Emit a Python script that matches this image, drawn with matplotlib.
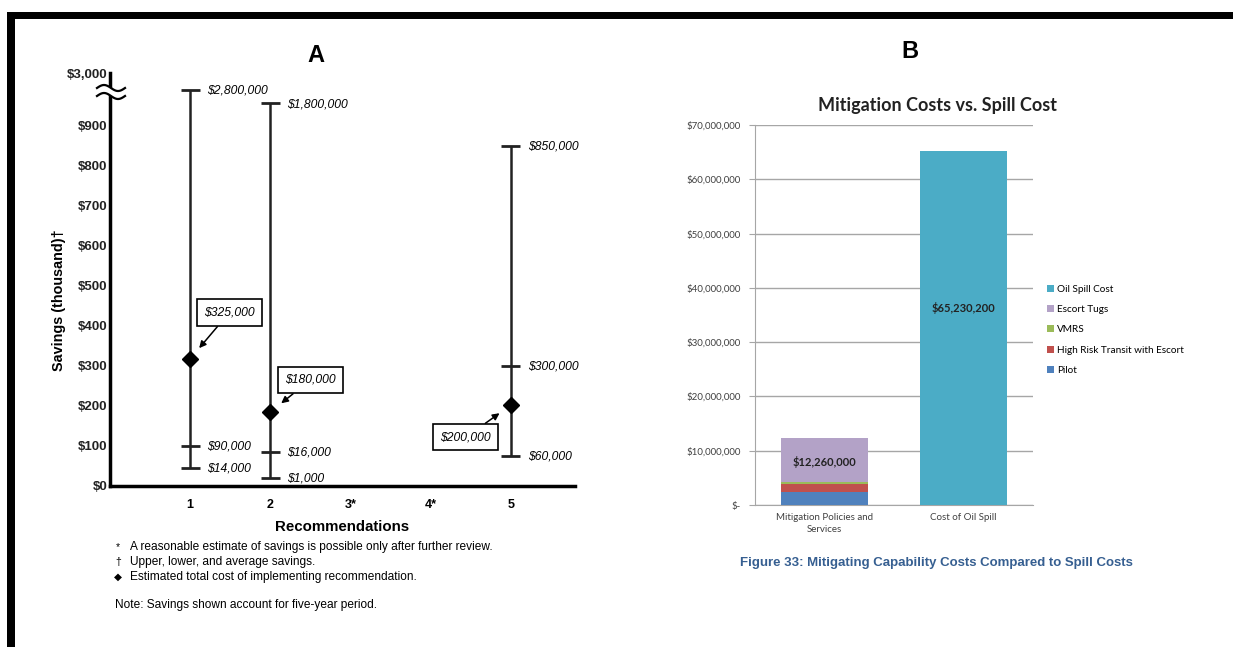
import numpy as np
import matplotlib.pyplot as plt
from matplotlib.patches import Rectangle, Polygon
from matplotlib.lines import Line2D

plt.rcParams['font.family'] = ['Liberation Sans', 'DejaVu Sans']

W, H = 1233, 647

# --- panel A: savings per recommendation (thousand $) ---
recs = ['1', '2', '3*', '4*', '5']
upper_k = [2800, 1800, np.nan, np.nan, 850]
avg_k = [100, 85, np.nan, np.nan, 300]
low_k = [45, 20, np.nan, np.nan, 75]
cost_k = [318, 185, np.nan, np.nan, 202]
upper_lbl = ['$2,800,000', '$1,800,000', '', '', '$850,000']
avg_lbl = ['$90,000', '$16,000', '', '', '$300,000']
low_lbl = ['$14,000', '$1,000', '', '', '$60,000']
cost_lbl = ['$325,000', '$180,000', '', '', '$200,000']
ytick_k = [0, 100, 200, 300, 400, 500, 600, 700, 800, 900, 3000]

# --- panel B: mitigation vs spill cost ---
cats = ['Mitigation Policies and\nServices', 'Cost of Oil Spill']
pilot = [2.4e6, 0]
hrt = [1.4e6, 0]
vmrs = [0.5e6, 0]
tugs = [7.96e6, 0]
spill = [0, 65.23e6]
total_lbl = ['$12,260,000', '$65,230,200']


def fx(p):
    return p / W


def fy(p):
    return 1 - p / H


fig = plt.figure(figsize=(W / 100, H / 100), dpi=100)

# page frame (black edges of the scan)
fig.add_artist(Rectangle((fx(7), fy(19)), 1, 7 / H, transform=fig.transFigure,
                         color='black', lw=0))
fig.add_artist(Rectangle((fx(7), 0), 8 / W, fy(12), transform=fig.transFigure,
                         color='black', lw=0))

# ---------------- panel A ----------------
# broken axis: values above $900k squeezed into the top of the axis
kv = [0, 900, 1800, 2800, 3000, 4000]
kp = [0, 900, 957, 990, 1032, 1100]
fwd = lambda v: np.interp(v, kv, kp)
inv = lambda p: np.interp(p, kp, kv)

axA = fig.add_axes([fx(110), fy(486), (575 - 110) / W, (486 - 73) / H])
axA.set_yscale('function', functions=(fwd, inv))
axA.set_xlim(0, 5.8)
axA.set_ylim(0, 3000)
axA.spines[['top', 'right']].set_visible(False)
axA.spines[['left', 'bottom']].set_linewidth(2.5)
axA.set_yticks(ytick_k)
axA.set_yticklabels([f'${v:,}' for v in ytick_k])
axA.yaxis.set_minor_locator(plt.NullLocator())
axA.tick_params(axis='y', length=0, pad=2, labelsize=9.5, labelcolor='#222222')
for t in axA.get_yticklabels():
    t.set_fontweight('bold')
xs = np.arange(1, len(recs) + 1)
axA.set_xticks(xs)
axA.set_xticklabels(recs, fontweight='bold', fontsize=9)
axA.tick_params(axis='x', length=0, pad=9)
axA.set_xlabel('Recommendations', fontweight='bold', fontsize=10.8, labelpad=7)
axA.set_ylabel('Savings (thousand)\u2020', fontweight='bold', fontsize=10.4)
axA.yaxis.set_label_coords(-0.095, 0.45)

cw = 0.12
for i, x in enumerate(xs):
    if np.isnan(upper_k[i]):
        continue
    axA.vlines(x, low_k[i], upper_k[i], color='#222222', lw=1.8)
    axA.hlines([low_k[i], avg_k[i], upper_k[i]], x - cw, x + cw, color='#222222', lw=2)
    for v, s in [(upper_k[i], upper_lbl[i]), (avg_k[i], avg_lbl[i]), (low_k[i], low_lbl[i])]:
        axA.annotate(s, xy=(x, v), xytext=(17, -1), textcoords='offset pixels',
                     va='center', ha='left', fontstyle='italic', fontsize=8.7)
    axA.plot(x, cost_k[i], marker='D', ms=8, color='black', zorder=5)

box_off = [(39, 46), (40, 32), None, None, (-45, -32)]
for i, x in enumerate(xs):
    if box_off[i] is None:
        continue
    axA.annotate(cost_lbl[i], xy=(x, cost_k[i]), xytext=box_off[i],
                 textcoords='offset pixels', ha='center', va='center',
                 fontstyle='italic', fontsize=8.7,
                 bbox=dict(boxstyle='square,pad=0.6', fc='white', ec='black', lw=1.2),
                 arrowprops=dict(arrowstyle='-|>', color='black', lw=1.1,
                                 mutation_scale=10, shrinkA=0, shrinkB=10))

# axis break symbol
bx = np.linspace(97, 125, 40)
w1 = 88 - 3 * np.sin(2 * np.pi * (bx - 97) / 28)
w2 = 96 - 3 * np.sin(2 * np.pi * (bx - 97) / 28)
poly = np.column_stack([np.r_[bx, bx[::-1]], np.r_[w1, w2[::-1]]])
fig.add_artist(Polygon([(fx(a), fy(b)) for a, b in poly], closed=True,
                       transform=fig.transFigure, fc='white', ec='none', zorder=10))
for w in (w1, w2):
    fig.add_artist(Line2D(fx(bx), fy(w), transform=fig.transFigure,
                          color='black', lw=1.6, zorder=11))

fig.text(fx(316), fy(55), 'A', fontsize=17, fontweight='bold', ha='center', va='center')

notes = [('*', 'A reasonable estimate of savings is possible only after further review.', 547),
         ('\u2020', 'Upper, lower, and average savings.', 562),
         ('\u25c6', 'Estimated total cost of implementing recommendation.', 577)]
for sym, txt, yy in notes:
    fig.text(fx(118), fy(yy), sym, fontsize=7.5, ha='center', va='center',
             family=['DejaVu Sans'] if sym == '\u25c6' else None)
    fig.text(fx(130), fy(yy), txt, fontsize=8.6, va='center')
fig.text(fx(115), fy(605), 'Note: Savings shown account for five-year period.',
         fontsize=8.6, va='center')

# ---------------- panel B ----------------
colors = {'Pilot': '#4F81BD', 'High Risk Transit with Escort': '#C0504D',
          'VMRS': '#9BBB59', 'Escort Tugs': '#B3A2C7', 'Oil Spill Cost': '#4BACC6'}
axB = fig.add_axes([fx(755), fy(505), (1033 - 755) / W, (505 - 125) / H])
xb = np.arange(len(cats))
bw = 0.63
bottom = np.zeros(len(cats))
for name, vals in [('Pilot', pilot), ('High Risk Transit with Escort', hrt),
                   ('VMRS', vmrs), ('Escort Tugs', tugs), ('Oil Spill Cost', spill)]:
    axB.bar(xb, vals, bw, bottom=bottom, color=colors[name], label=name, zorder=3)
    bottom += np.array(vals)

axB.text(xb[0], bottom[0] - tugs[0] * 0.55, total_lbl[0], ha='center', va='center',
         fontsize=8, fontweight='bold', family='Lato', color='#222222', zorder=4)
axB.text(xb[1], spill[1] * 0.555, total_lbl[1], ha='center', va='center',
         fontsize=8, fontweight='bold', family='Lato', color='#222222', zorder=4)

axB.set_xlim(-0.5, 1.5)
axB.set_ylim(0, 70e6)
axB.set_yticks(np.arange(0, 70e6 + 1, 10e6))
axB.set_yticklabels(['$-' if v == 0 else f'${v:,.0f}' for v in np.arange(0, 70e6 + 1, 10e6)])
axB.yaxis.grid(True, color='#A6A6A6', lw=1)
axB.set_axisbelow(True)
axB.spines[['top', 'right']].set_visible(False)
axB.spines[['left', 'bottom']].set_color('#A6A6A6')
axB.tick_params(axis='y', length=4, color='#A6A6A6', labelsize=7, pad=6.5,
                labelcolor='#404040')
axB.set_xticks(xb)
axB.set_xticklabels(cats, fontsize=7, linespacing=1.4)
axB.tick_params(axis='x', length=0, pad=6, labelcolor='#404040')
for t in axB.get_xticklabels() + axB.get_yticklabels():
    t.set_fontfamily('Lato')

axB.set_title('Mitigation Costs vs. Spill Cost', fontsize=13, fontweight='bold',
              family='Lato', pad=10, color='#222222', x=0.658)

h, l = axB.get_legend_handles_labels()
fig.legend(h[::-1], l[::-1], loc='upper left', bbox_to_anchor=(fx(1047), fy(285)),
           frameon=False, prop={'family': 'Lato', 'size': 7.2},
           handlelength=0.7, handleheight=0.7, handletextpad=0.3,
           labelspacing=1.12, borderpad=0, borderaxespad=0)

fig.text(fx(910), fy(52), 'B', fontsize=17, fontweight='bold', ha='center', va='center')
fig.text(fx(740), fy(563), 'Figure 33: Mitigating Capability Costs Compared to Spill Costs',
         fontsize=9.5, fontweight='bold', color='#365F91', va='center')

fig.savefig('out.png', dpi=100)
